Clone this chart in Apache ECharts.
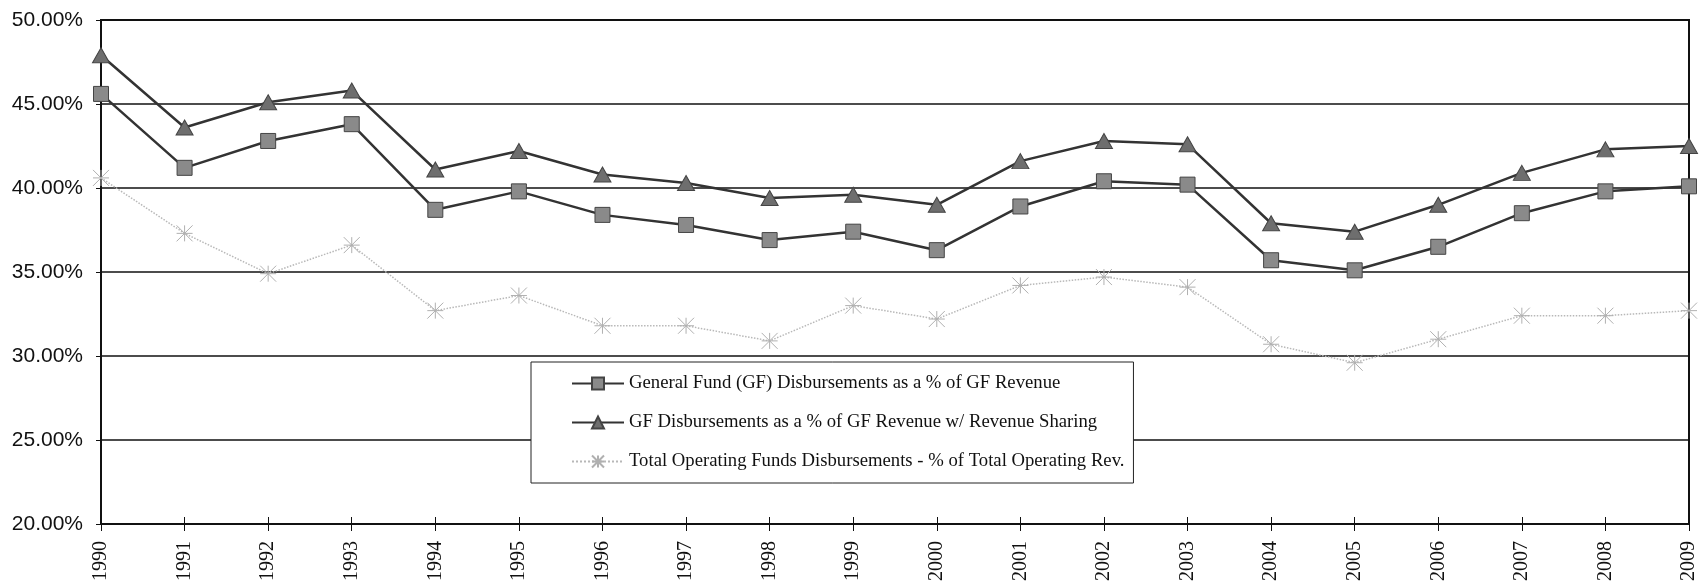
<!DOCTYPE html>
<html>
<head>
<meta charset="utf-8">
<style>
  html, body { margin: 0; padding: 0; background: #fff; }
  #chart { width: 1699px; height: 587px; }
</style>
<script src="https://cdn.jsdelivr.net/npm/echarts@6/dist/echarts.min.js"></script>
</head>
<body>
<div id="chart"></div>
<script>
// years on the x axis
var years = ['1990', '1991', '1992', '1993', '1994', '1995', '1996', '1997', '1998', '1999',
  '2000', '2001', '2002', '2003', '2004', '2005', '2006', '2007', '2008', '2009']

// values in percent
var gfPct = [45.6, 41.2, 42.8, 43.8, 38.7, 39.8, 38.4, 37.8, 36.9, 37.4,
  36.3, 38.9, 40.4, 40.2, 35.7, 35.1, 36.5, 38.5, 39.8, 40.1]
var gfSharingPct = [47.9, 43.6, 45.1, 45.8, 41.1, 42.2, 40.8, 40.3, 39.4, 39.6,
  39.0, 41.6, 42.8, 42.6, 37.9, 37.4, 39.0, 40.9, 42.3, 42.5]
var totalOpPct = [40.6, 37.3, 34.9, 36.6, 32.7, 33.6, 31.8, 31.8, 30.9, 33.0,
  32.2, 34.2, 34.7, 34.1, 30.7, 29.6, 31.0, 32.4, 32.4, 32.7]

var seriesNames = [
  'General Fund (GF) Disbursements as a % of GF Revenue',
  'GF Disbursements as a % of GF Revenue w/ Revenue Sharing',
  'Total Operating Funds Disbursements - % of Total Operating Rev.'
]

// asterisk marker for the third series
var starPath = 'path://M0,0L10,10M10,0L0,10M5,0L5,10M0,5L10,5'

var dom = echarts.init(document.getElementById('chart'))
var option = {
  animation: false,
  backgroundColor: '#fff',
  grid: {
    left: 101,
    right: 9,
    top: 20,
    bottom: 63,
    show: true,
    borderColor: '#111',
    borderWidth: 2
  },
  legend: {
    orient: 'vertical',
    left: 531,
    top: 362,
    padding: [12, 9, 12, 40],
    itemGap: 20,
    itemWidth: 52,
    itemHeight: 15,
    backgroundColor: '#fff',
    borderColor: '#222',
    borderWidth: 1,
    textStyle: {
      fontFamily: 'Liberation Serif',
      fontSize: 18.7,
      color: '#111'
    },
    data: seriesNames
  },
  xAxis: [
    {
      type: 'category',
      data: years,
      boundaryGap: false,
      axisLine: { lineStyle: { color: '#111', width: 2 } },
      axisTick: { show: true, length: 7, lineStyle: { color: '#111' } },
      axisLabel: {
        rotate: 90,
        margin: 17,
        color: '#111',
        fontFamily: 'Liberation Serif',
        fontSize: 20
      },
      splitLine: { show: false }
    },
    {
      // only used to draw the inner half of the x ticks
      type: 'category',
      data: years,
      boundaryGap: false,
      position: 'bottom',
      axisLine: { show: false },
      axisTick: { show: true, inside: true, length: 7, lineStyle: { color: '#111' } },
      axisLabel: { show: false },
      splitLine: { show: false }
    }
  ],
  yAxis: {
    type: 'value',
    min: 20,
    max: 50,
    interval: 5,
    axisLine: { show: true, lineStyle: { color: '#111', width: 2 } },
    axisTick: { show: true, length: 5, lineStyle: { color: '#111' } },
    axisLabel: {
      margin: 18,
      color: '#111',
      fontFamily: 'Liberation Sans',
      fontSize: 21,
      formatter: function (v) { return v.toFixed(2) + '%' }
    },
    splitLine: { lineStyle: { color: '#111', width: 1.5 } }
  },
  series: [
    {
      name: seriesNames[0],
      type: 'line',
      data: gfPct,
      symbol: 'rect',
      symbolSize: 15,
      lineStyle: { color: '#333', width: 2.5 },
      itemStyle: { color: '#8a8a8a', borderColor: '#444', borderWidth: 1 }
    },
    {
      name: seriesNames[1],
      type: 'line',
      data: gfSharingPct,
      symbol: 'triangle',
      symbolSize: [17, 15],
      lineStyle: { color: '#333', width: 2.5 },
      itemStyle: { color: '#6e6e6e', borderColor: '#444', borderWidth: 1 }
    },
    {
      name: seriesNames[2],
      type: 'line',
      data: totalOpPct,
      symbol: starPath,
      symbolSize: 16,
      lineStyle: { color: '#b8b8b8', width: 1.5, type: 'dotted' },
      itemStyle: { color: 'transparent', borderColor: '#b0b0b0', borderWidth: 1 }
    }
  ]
}
dom.setOption(option)
</script>
</body>
</html>
